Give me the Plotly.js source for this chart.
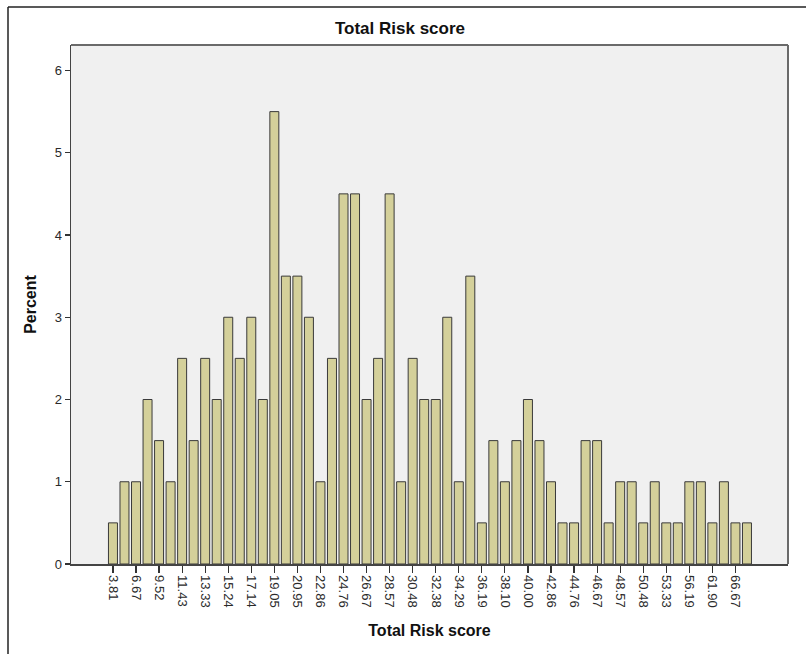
<!DOCTYPE html>
<html>
<head>
<meta charset="utf-8">
<script src="https://cdn.plot.ly/plotly-3.0.1.min.js"></script>
<style>
html,body{margin:0;padding:0;background:#fff;}
#chart{width:806px;height:654px;}
</style>
</head>
<body>
<div id="chart"></div>
<script>
// Category labels (Total Risk score) for each bar
var scoreLabels = [
  "3.81","5.71","6.67","8.57","9.52","10.48","11.43","12.38","13.33","14.29",
  "15.24","16.19","17.14","18.10","19.05","20.00","20.95","21.90","22.86","23.81",
  "24.76","25.71","26.67","27.62","28.57","29.52","30.48","31.43","32.38","33.33",
  "34.29","35.24","36.19","37.14","38.10","39.05","40.00","40.95","42.86","43.81",
  "44.76","45.71","46.67","47.62","48.57","49.52","50.48","51.43","53.33","54.29",
  "56.19","57.14","61.90","62.86","66.67","68.57"
];
// Percent for each bar
var percent = [
  0.5,1,1,2,1.5,1,2.5,1.5,2.5,2,
  3,2.5,3,2,5.5,3.5,3.5,3,1,2.5,
  4.5,4.5,2,2.5,4.5,1,2.5,2,2,3,
  1,3.5,0.5,1.5,1,1.5,2,1.5,1,0.5,
  0.5,1.5,1.5,0.5,1,1,0.5,1,0.5,0.5,
  1,1,0.5,1,0.5,0.5
];
// Labels shown on the x axis
var tickLabels = [
  "3.81","6.67","9.52","11.43","13.33","15.24","17.14","19.05","20.95","22.86",
  "24.76","26.67","28.57","30.48","32.38","34.29","36.19","38.10","40.00","42.86",
  "44.76","46.67","48.57","50.48","53.33","56.19","61.90","66.67"
];
var yTicks = [0,1,2,3,4,5,6];

var L = 71, R = 788, T = 45, B = 564, W = 806, H = 654;
function px(x){ return (x - L) / (R - L); }
function py(y){ return (B - y) / (B - T); }

var trace = {
  type: 'bar',
  x: scoreLabels,
  y: percent,
  width: 0.78,
  marker: {color: '#d4d09a', line: {color: '#3a3a3a', width: 1}},
  hoverinfo: 'x+y'
};

var font = 'Liberation Sans, Arial, sans-serif';
var layout = {
  width: W, height: H,
  margin: {l: L, r: W - R, t: T, b: H - B, pad: 0},
  paper_bgcolor: '#ffffff',
  plot_bgcolor: '#f0f0f0',
  showlegend: false,
  title: {
    text: '<b>Total Risk score</b>',
    font: {family: font, size: 17, color: '#111'},
    xref: 'container', yref: 'container',
    x: 400 / W, y: 1 - 28 / H, xanchor: 'center', yanchor: 'middle'
  },
  xaxis: {
    type: 'category',
    categoryorder: 'array',
    categoryarray: scoreLabels,
    range: [-3.64, 58.56],
    tickmode: 'array',
    tickvals: tickLabels,
    ticktext: tickLabels,
    tickangle: 90,
    ticks: 'outside', ticklen: 7, tickwidth: 1.2, tickcolor: '#333',
    tickfont: {family: font, size: 13, color: '#2a2a2a'},
    showgrid: false, zeroline: false,
    showline: true, linecolor: '#444', linewidth: 1.5, mirror: false,
    title: {text: '<b>Total Risk score</b>', font: {family: font, size: 16, color: '#111'}, standoff: 18},
    fixedrange: true
  },
  yaxis: {
    range: [0, 6.31],
    tickmode: 'array',
    tickvals: yTicks,
    ticktext: yTicks.map(String),
    ticks: 'outside', ticklen: 5, tickwidth: 1.2, tickcolor: '#333',
    tickfont: {family: font, size: 13, color: '#2a2a2a'},
    showgrid: false, zeroline: false,
    showline: true, linecolor: '#444', linewidth: 1.5, mirror: false,
    title: {text: '<b>Percent</b>', font: {family: font, size: 16, color: '#111'}, standoff: 14},
    fixedrange: true
  },
  shapes: [
    {type: 'line', xref: 'paper', yref: 'paper', x0: 0, x1: 1, y0: 1, y1: 1,
     line: {color: '#6a6a6a', width: 2}},
    {type: 'line', xref: 'paper', yref: 'paper', x0: 1, x1: 1, y0: 0, y1: 1,
     line: {color: '#6a6a6a', width: 2}},
    {type: 'line', xref: 'paper', yref: 'paper', x0: px(8), x1: px(8), y0: py(7), y1: py(660),
     line: {color: '#222', width: 1.5}},
    {type: 'line', xref: 'paper', yref: 'paper', x0: px(8), x1: px(812), y0: py(7), y1: py(7),
     line: {color: '#222', width: 1.5}}
  ]
};

Plotly.newPlot('chart', [trace], layout, {displayModeBar: false, staticPlot: true});
</script>
</body>
</html>
